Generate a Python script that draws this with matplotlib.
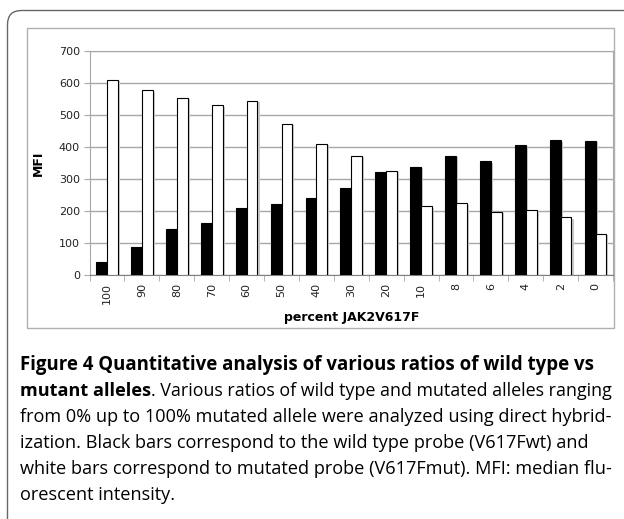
import matplotlib.pyplot as plt
import matplotlib.patches as mpatches
import numpy as np

# percent JAK2V617F categories and MFI values
categories = ['100', '90', '80', '70', '60', '50', '40', '30', '20', '10', '8', '6', '4', '2', '0']
wt_mfi = [40, 88, 143, 163, 208, 222, 240, 272, 322, 338, 372, 355, 407, 420, 418]
mut_mfi = [608, 576, 552, 529, 544, 472, 410, 372, 324, 214, 224, 198, 204, 180, 129]

caption_bold = "Figure 4 Quantitative analysis of various ratios of wild type vs"
caption_bold2 = "mutant alleles"
caption_rest = [
    ". Various ratios of wild type and mutated alleles ranging",
    "from 0% up to 100% mutated allele were analyzed using direct hybrid-",
    "ization. Black bars correspond to the wild type probe (V617Fwt) and",
    "white bars correspond to mutated probe (V617Fmut). MFI: median flu-",
    "orescent intensity.",
]

W, H = 624, 519
fig = plt.figure(figsize=(W / 100, H / 100), dpi=100)

# background axes in pixel units for frames and caption
bg = fig.add_axes([0, 0, 1, 1])
bg.set_xlim(0, W)
bg.set_ylim(H, 0)
bg.axis('off')

outer = mpatches.FancyBboxPatch((7.5, 10.5), 700, 600, boxstyle='round,pad=0,rounding_size=14',
                                fc='white', ec='#666666', lw=1.0)
bg.add_patch(outer)
inner = mpatches.Rectangle((26.5, 28), 587, 300, fc='white', ec='#b0b0b0', lw=1.0)
bg.add_patch(inner)

# caption
cap_font = 'Open Sans'
y0 = 370
dy = 26.0
bg.text(20, y0, caption_bold, fontsize=13.4, fontweight='bold', family=cap_font, va='baseline')
t = bg.text(20, y0 + dy, caption_bold2, fontsize=13.1, fontweight='bold', family=cap_font, va='baseline')
fig.canvas.draw()
r = fig.canvas.get_renderer()
bb = t.get_window_extent(renderer=r)
bg.text(bb.x1, y0 + dy, caption_rest[0], fontsize=12.9, family=cap_font, va='baseline')
for i, line in enumerate(caption_rest[1:]):
    bg.text(20, y0 + dy * (i + 2), line, fontsize=13.1, family=cap_font, va='baseline')

# chart
ax = fig.add_axes([89.6 / W, 1 - 275 / H, (613 - 89.6) / W, (275 - 50.7) / H])
x = np.arange(len(categories))
bw = 0.31
grid_c = '#a8a8a8'
txt_c = '#222222'

# drop shadows like the spreadsheet chart
ax.bar(x - bw / 2 + 0.06, np.array(wt_mfi) - 4, bw, color='#c8c8c8', zorder=2)
ax.bar(x + bw / 2 + 0.06, np.array(mut_mfi) - 4, bw, color='#c8c8c8', zorder=2)
ax.bar(x - bw / 2, wt_mfi, bw, color='black', edgecolor='black', lw=0.8, zorder=3)
ax.bar(x + bw / 2, mut_mfi, bw, color='white', edgecolor='black', lw=0.8, zorder=3)

ax.set_xlim(-0.5, len(categories) - 0.5)
ax.set_ylim(0, 700)
ax.set_yticks(range(0, 701, 100))
ax.yaxis.grid(True, color=grid_c, lw=1.0, zorder=0)
ax.set_axisbelow(True)

ax.set_xticks(x)
ax.set_xticklabels(categories, rotation=90, fontsize=8, color=txt_c)
ax.set_xticks(np.arange(-0.5, len(categories)), minor=True)
ax.tick_params(axis='x', which='major', length=0, pad=6)
ax.tick_params(axis='x', which='minor', length=4, color=grid_c, direction='out')
ax.tick_params(axis='y', length=4, color=grid_c, labelsize=8, labelcolor=txt_c, pad=3)

for s in ['top', 'right']:
    ax.spines[s].set_color(grid_c)
ax.spines['left'].set_color(grid_c)
ax.spines['bottom'].set_color('#808080')

ax.set_ylabel('MFI', fontsize=9, fontweight='bold', labelpad=10)
ax.set_xlabel('percent JAK2V617F', fontsize=9, fontweight='bold', labelpad=5)

fig.savefig('out.png', dpi=100)
